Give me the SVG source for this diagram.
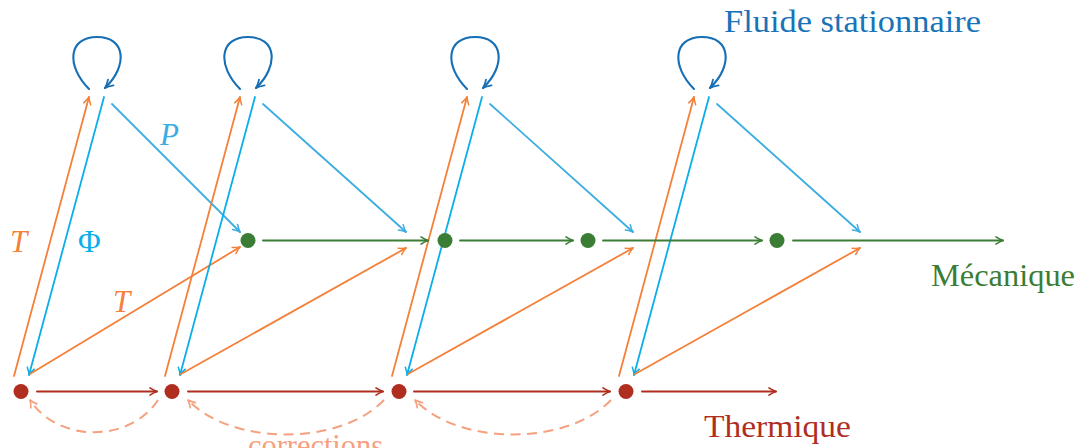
<svg xmlns="http://www.w3.org/2000/svg" width="1081" height="448" viewBox="0 0 1081 448">
<style>
.ln{fill:none;stroke-width:1.8;stroke-linecap:round}
.or{stroke:#f4803a}
.cy{stroke:#0caeea}
.lb{stroke:#3cade0}
.db{stroke:#166fb5;stroke-width:2.1}
.gr{stroke:#3b7d34;stroke-width:1.9}
.rd{stroke:#b02e1f;stroke-width:2}
.sa{stroke:#f5a07e;stroke-width:2;stroke-dasharray:10 6.5;stroke-linecap:butt}
.lab{font-family:"Liberation Serif","DejaVu Serif",serif;font-size:31px}
.it{font-style:italic}
</style>
<defs>
<marker id="aOr" markerUnits="userSpaceOnUse" markerWidth="12" markerHeight="12" refX="0" refY="0" viewBox="-9 -6 12 12" orient="auto" overflow="visible"><path d="M-7,-3.6 Q-3,-0.9 0,0 Q-3,0.9 -7,3.6" fill="none" stroke="#f4803a" stroke-width="1.5" stroke-linecap="round" stroke-linejoin="round"/></marker>
<marker id="aCy" markerUnits="userSpaceOnUse" markerWidth="12" markerHeight="12" refX="0" refY="0" viewBox="-9 -6 12 12" orient="auto" overflow="visible"><path d="M-7,-3.6 Q-3,-0.9 0,0 Q-3,0.9 -7,3.6" fill="none" stroke="#0caeea" stroke-width="1.5" stroke-linecap="round" stroke-linejoin="round"/></marker>
<marker id="aLb" markerUnits="userSpaceOnUse" markerWidth="12" markerHeight="12" refX="0" refY="0" viewBox="-9 -6 12 12" orient="auto" overflow="visible"><path d="M-7,-3.6 Q-3,-0.9 0,0 Q-3,0.9 -7,3.6" fill="none" stroke="#3cade0" stroke-width="1.5" stroke-linecap="round" stroke-linejoin="round"/></marker>
<marker id="aDb" markerUnits="userSpaceOnUse" markerWidth="12" markerHeight="12" refX="0" refY="0" viewBox="-9 -6 12 12" orient="auto" overflow="visible"><path d="M-8,-4 Q-3.5,-1 0,0 Q-3.5,1 -8,4" fill="none" stroke="#166fb5" stroke-width="1.8" stroke-linecap="round" stroke-linejoin="round"/></marker>
<marker id="aGr" markerUnits="userSpaceOnUse" markerWidth="12" markerHeight="12" refX="0" refY="0" viewBox="-9 -6 12 12" orient="auto" overflow="visible"><path d="M-7,-3.6 Q-3,-0.9 0,0 Q-3,0.9 -7,3.6" fill="none" stroke="#3b7d34" stroke-width="1.6" stroke-linecap="round" stroke-linejoin="round"/></marker>
<marker id="aRd" markerUnits="userSpaceOnUse" markerWidth="12" markerHeight="12" refX="0" refY="0" viewBox="-9 -6 12 12" orient="auto" overflow="visible"><path d="M-7,-3.6 Q-3,-0.9 0,0 Q-3,0.9 -7,3.6" fill="none" stroke="#b02e1f" stroke-width="1.7" stroke-linecap="round" stroke-linejoin="round"/></marker>
<marker id="aSa" markerUnits="userSpaceOnUse" markerWidth="12" markerHeight="12" refX="0" refY="0" viewBox="-9 -6 12 12" orient="auto" overflow="visible"><path d="M-7,-3.6 Q-3,-0.9 0,0 Q-3,0.9 -7,3.6" fill="none" stroke="#f5a07e" stroke-width="1.7" stroke-linecap="round" stroke-linejoin="round"/></marker>
</defs>
<rect width="1081" height="448" fill="#ffffff"/>
<g id="connectors">
<path class="ln db" d="M89,89 C66,66 68,37 97,37 C126,37 128,66 105,88" marker-end="url(#aDb)"/>
<path class="ln db" d="M240,89 C217,66 219,37 248,37 C277,37 279,66 256,88" marker-end="url(#aDb)"/>
<path class="ln db" d="M467,89 C444,66 446,37 475,37 C504,37 506,66 483,88" marker-end="url(#aDb)"/>
<path class="ln db" d="M694,89 C671,66 673,37 702,37 C731,37 733,66 710,88" marker-end="url(#aDb)"/>
<line class="ln or" x1="14" y1="376" x2="89" y2="97" marker-end="url(#aOr)"/>
<line class="ln cy" x1="104" y1="97" x2="29" y2="375" marker-end="url(#aCy)"/>
<line class="ln lb" x1="112" y1="104" x2="240" y2="232" marker-end="url(#aLb)"/>
<line class="ln or" x1="30" y1="374" x2="240" y2="247" marker-end="url(#aOr)"/>
<line class="ln or" x1="165" y1="376" x2="240" y2="97" marker-end="url(#aOr)"/>
<line class="ln cy" x1="255" y1="97" x2="180" y2="375" marker-end="url(#aCy)"/>
<line class="ln lb" x1="263" y1="104" x2="406" y2="232" marker-end="url(#aLb)"/>
<line class="ln or" x1="181" y1="374" x2="406" y2="248" marker-end="url(#aOr)"/>
<line class="ln or" x1="392" y1="376" x2="467" y2="97" marker-end="url(#aOr)"/>
<line class="ln cy" x1="482" y1="97" x2="407" y2="375" marker-end="url(#aCy)"/>
<line class="ln lb" x1="490" y1="104" x2="633" y2="232" marker-end="url(#aLb)"/>
<line class="ln or" x1="408" y1="374" x2="633" y2="248" marker-end="url(#aOr)"/>
<line class="ln or" x1="619" y1="376" x2="694" y2="97" marker-end="url(#aOr)"/>
<line class="ln cy" x1="709" y1="97" x2="634" y2="375" marker-end="url(#aCy)"/>
<line class="ln lb" x1="717" y1="104" x2="860" y2="232" marker-end="url(#aLb)"/>
<line class="ln or" x1="635" y1="374" x2="860" y2="248" marker-end="url(#aOr)"/>
<line class="ln gr" x1="263" y1="240.5" x2="428" y2="240.5" marker-end="url(#aGr)"/>
<line class="ln gr" x1="460" y1="240.5" x2="573" y2="240.5" marker-end="url(#aGr)"/>
<line class="ln gr" x1="603" y1="240.5" x2="762" y2="240.5" marker-end="url(#aGr)"/>
<line class="ln gr" x1="793" y1="240.5" x2="1003" y2="240.5" marker-end="url(#aGr)"/>
<line class="ln rd" x1="37" y1="391.5" x2="157" y2="391.5" marker-end="url(#aRd)"/>
<line class="ln rd" x1="188" y1="391.5" x2="383" y2="391.5" marker-end="url(#aRd)"/>
<line class="ln rd" x1="414" y1="391.5" x2="610" y2="391.5" marker-end="url(#aRd)"/>
<line class="ln rd" x1="642" y1="391.5" x2="776" y2="391.5" marker-end="url(#aRd)"/>
<path class="ln sa" d="M158,400 C130,443 58,443 30,400" marker-end="url(#aSa)"/>
<path class="ln sa" d="M384,400 C340,446 232,446 188,400" marker-end="url(#aSa)"/>
<path class="ln sa" d="M611,400 C567,446 459,446 415,400" marker-end="url(#aSa)"/>
</g>
<g id="thermal-nodes" fill="#b02e1f">
<circle id="t1" cx="21" cy="391.5" r="7.5"/>
<circle id="t2" cx="172" cy="391.5" r="7.5"/>
<circle id="t3" cx="399" cy="391.5" r="7.5"/>
<circle id="t4" cx="626" cy="391.5" r="7.5"/>
</g>
<g id="mechanical-nodes" fill="#3b7d34">
<circle id="m1" cx="248" cy="240.5" r="7.5"/>
<circle id="m2" cx="445" cy="240.5" r="7.5"/>
<circle id="m3" cx="588" cy="240.5" r="7.5"/>
<circle id="m4" cx="777" cy="240.5" r="7.5"/>
</g>
<g id="labels">
<text class="lab" x="724" y="32" fill="#1873b8" textLength="257" lengthAdjust="spacingAndGlyphs">Fluide stationnaire</text>
<text class="lab" x="931" y="286" fill="#3b7d34" textLength="144" lengthAdjust="spacingAndGlyphs">Mécanique</text>
<text class="lab" x="704" y="437" fill="#b02e1f" textLength="147" lengthAdjust="spacingAndGlyphs">Thermique</text>
<text class="lab" x="248" y="456" fill="#f5a07e" textLength="135" lengthAdjust="spacingAndGlyphs">corrections</text>
<text class="lab it" x="10" y="252" fill="#f4803a">T</text>
<text class="lab" x="78" y="252" fill="#0caeea">Φ</text>
<text class="lab it" x="113" y="312" fill="#f4803a">T</text>
<text class="lab it" x="160" y="145" fill="#3cade0">P</text>
</g>
</svg>
